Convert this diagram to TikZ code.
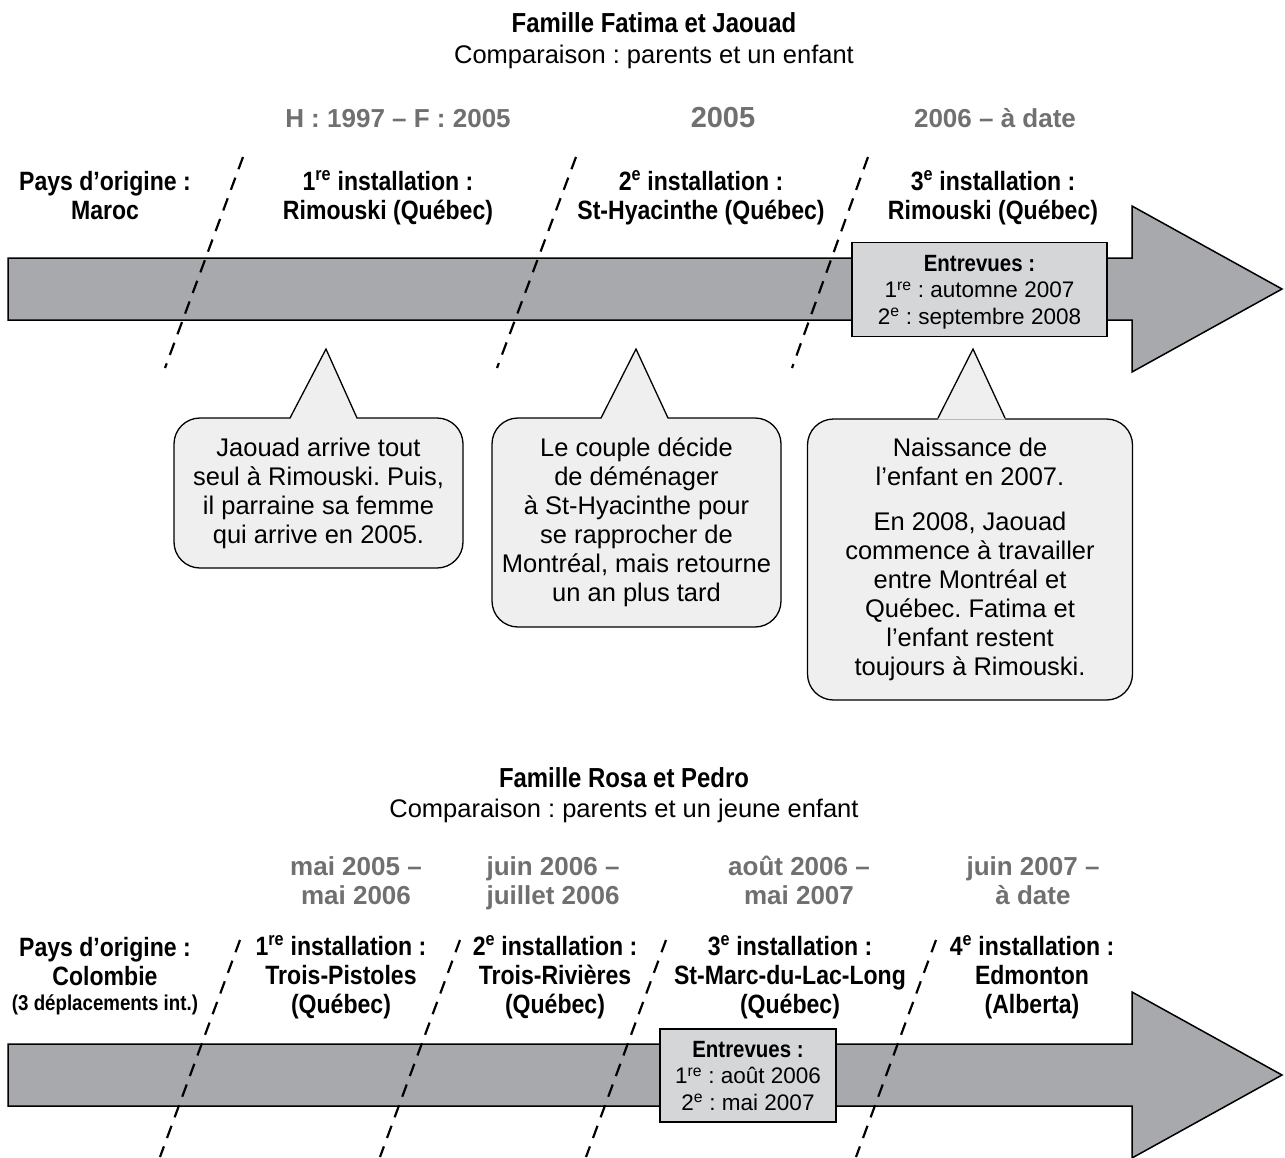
\documentclass[tikz,border=0pt]{standalone}
\usepackage{fontspec}
\setmainfont{Liberation Sans}
\newfontfamily\condfont{Liberation Sans}[FakeStretch=0.87]
\definecolor{arrowgray}{HTML}{A7A9AC}
\definecolor{boxgray}{HTML}{D5D6D8}
\definecolor{calloutgray}{HTML}{EFEFEF}
\definecolor{dategray}{HTML}{707070}
\begin{document}
\frenchspacing
\begin{tikzpicture}[x=1pt,y=-1pt,
  title/.style={font=\condfont\bfseries\fontsize{27.5}{29}\selectfont, anchor=base, inner sep=0pt},
  subtitle/.style={font=\fontsize{25.5}{29}\selectfont, anchor=base, inner sep=0pt},
  lbl/.style={font=\condfont\bfseries\fontsize{26.5}{29}\selectfont, align=center, anchor=base, inner sep=0pt},
  datelbl/.style={font=\bfseries\fontsize{26}{29}\selectfont, text=dategray, align=center, anchor=base, inner sep=0pt},
  timeline/.style={draw=black, line width=1.5pt, fill=arrowgray, line join=miter},
  interview/.style={draw=black, line width=1.3pt, fill=boxgray, inner sep=0pt, align=center,
     text depth=0pt, font=\fontsize{22.5}{26.5}\selectfont},
  callout/.style={draw=black, line width=1.3pt, fill=calloutgray, rounded corners=26pt, inner sep=0pt,
     align=center, font=\fontsize{25.5}{29}\selectfont},
  sepline/.style={line width=2.2pt, dash pattern=on 13pt off 9pt, line cap=butt},
  pointer/.style={draw=black, line width=1.3pt, line join=miter}
]
\useasboundingbox (0,0) rectangle (1285,1157);
\fill[white] (0,0) rectangle (1285,1157);

% ================= TOP: Famille Fatima et Jaouad =================
\node[title] (t1) at (654,32) {Famille Fatima et Jaouad};
\node[subtitle] (s1) at (654,63) {Comparaison : parents et un enfant};

\node[datelbl] (d11) at (398,127) {H : 1997 – F : 2005};
\node[datelbl, font=\bfseries\fontsize{29}{29}\selectfont] (d12) at (723,127) {2005};
\node[datelbl] (d13) at (995,127) {2006 – à date};

% timeline arrow
\filldraw[timeline] (8,258) -- (1132,258) -- (1132,206) -- (1282,289) -- (1132,372) -- (1132,320) -- (8,320) -- cycle;

\node[lbl] (o1) at (105,219) {Pays d’origine :\\Maroc};
\node[lbl] (i11) at (388,219) {1\textsuperscript{re} installation :\\Rimouski (Québec)};
\node[lbl] (i12) at (701,219) {2\textsuperscript{e} installation :\\St-Hyacinthe (Québec)};
\node[lbl] (i13) at (993,219) {3\textsuperscript{e} installation :\\Rimouski (Québec)};

% separators
\coordinate (a1) at (243,157); \coordinate (b1) at (165,368);
\coordinate (a2) at (576,157); \coordinate (b2) at (497,368);
\coordinate (a3) at (868,157); \coordinate (b3) at (792,368);
\draw[sepline] (a1) -- (b1);
\draw[sepline] (a2) -- (b2);
\draw[sepline] (a3) -- (b3);

% interviews
\node[interview, minimum width=255pt, minimum height=94pt] (e1) at (979.5,289.5)
  {{\condfont\bfseries\fontsize{23.5}{26.5}\selectfont Entrevues :}\\1\textsuperscript{re} : automne 2007\\2\textsuperscript{e} : septembre 2008};

% callouts
\node[callout, minimum width=289pt, minimum height=150pt] (c1) at (318.5,493)
  {Jaouad arrive tout\\seul à Rimouski. Puis,\\il parraine sa femme\\qui arrive en 2005.};
\node[callout, minimum width=289pt, minimum height=209pt] (c2) at (636.5,522.5)
  {Le couple décide\\de déménager\\à St-Hyacinthe pour\\se rapprocher de\\Montréal, mais retourne\\un an plus tard};
\node[callout, minimum width=325pt, minimum height=281pt] (c3) at (970,559.5)
  {Naissance de\\l’enfant en 2007.\\[16pt]En 2008, Jaouad\\commence à travailler\\entre Montréal et\\Québec. Fatima et\\l’enfant restent\\toujours à Rimouski.};

\coordinate (p1) at (326,349);
\coordinate (p2) at (636,349);
\coordinate (p3) at (973,349);
\fill[calloutgray] (290,419.6) -- (p1) -- (357,419.6) -- cycle;
\draw[pointer] (290,418) -- (p1) -- (357,418);
\fill[calloutgray] (601,419.6) -- (p2) -- (668,419.6) -- cycle;
\draw[pointer] (601,418) -- (p2) -- (668,418);
\fill[calloutgray] (938,419.6) -- (p3) -- (1005,419.6) -- cycle;
\draw[pointer] (938,418) -- (p3) -- (1005,418);

% ================= BOTTOM: Famille Rosa et Pedro =================
\node[title] (t2) at (624,787) {Famille Rosa et Pedro};
\node[subtitle] (s2) at (624,817) {Comparaison : parents et un jeune enfant};

\node[datelbl] (d21) at (356,904) {mai 2005 –\\mai 2006};
\node[datelbl] (d22) at (553,904) {juin 2006 –\\juillet 2006};
\node[datelbl] (d23) at (799,904) {août 2006 –\\mai 2007};
\node[datelbl] (d24) at (1033,904) {juin 2007 –\\à date};

\filldraw[timeline] (8,1044) -- (1132,1044) -- (1132,992) -- (1282,1075) -- (1132,1158) -- (1132,1106) -- (8,1106) -- cycle;

\node[lbl] (o2) at (105,1010) {Pays d’origine :\\Colombie\\[-4pt]{\fontsize{21.5}{24}\selectfont (3 déplacements int.)}};
\node[lbl] (i21) at (341,1013) {1\textsuperscript{re} installation :\\Trois-Pistoles\\(Québec)};
\node[lbl] (i22) at (555,1013) {2\textsuperscript{e} installation :\\Trois-Rivières\\(Québec)};
\node[lbl] (i23) at (790,1013) {3\textsuperscript{e} installation :\\St-Marc-du-Lac-Long\\(Québec)};
\node[lbl] (i24) at (1032,1013) {4\textsuperscript{e} installation :\\Edmonton\\(Alberta)};

\coordinate (a4) at (240,940); \coordinate (b4) at (160,1157);
\coordinate (a5) at (460,940); \coordinate (b5) at (380,1157);
\coordinate (a6) at (666,940); \coordinate (b6) at (586,1157);
\coordinate (a7) at (936,940); \coordinate (b7) at (856,1157);
\draw[sepline] (a4) -- (b4);
\draw[sepline] (a5) -- (b5);
\draw[sepline] (a6) -- (b6);
\draw[sepline] (a7) -- (b7);

\node[interview, minimum width=176pt, minimum height=93pt] (e2) at (748,1075.5)
  {{\condfont\bfseries\fontsize{23.5}{26.5}\selectfont Entrevues :}\\1\textsuperscript{re} : août 2006\\2\textsuperscript{e} : mai 2007};
\end{tikzpicture}
\end{document}
